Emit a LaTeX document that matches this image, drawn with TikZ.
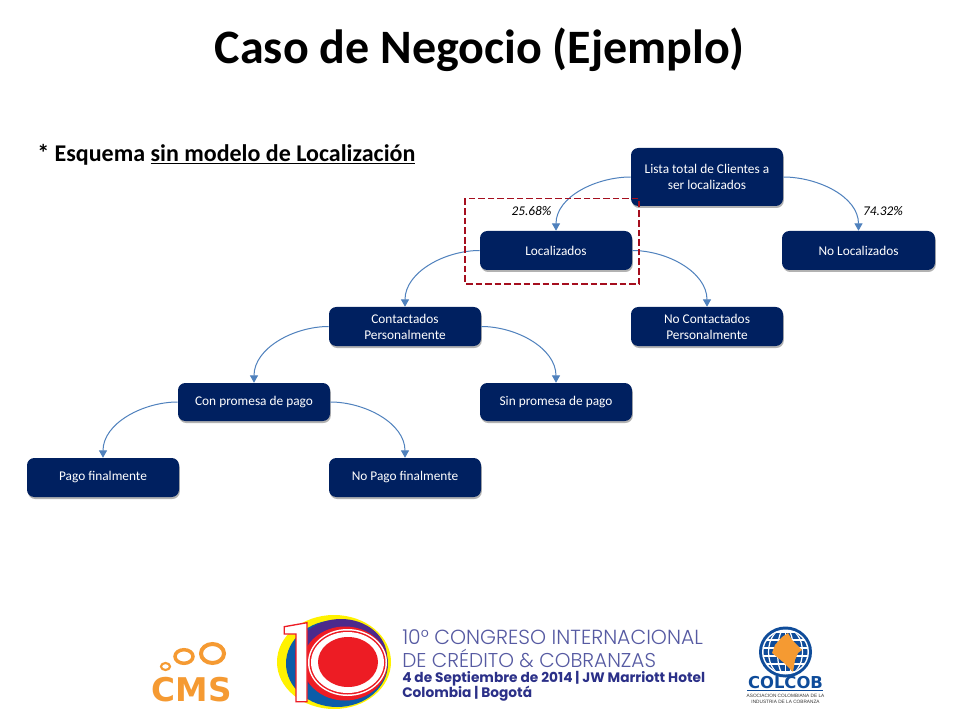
\documentclass[tikz,border=0pt]{standalone}
\usepackage{fontspec}
\usetikzlibrary{shadows,arrows.meta}
\setmainfont{Carlito}
\newfontfamily\lightfont{Poppins Light}
\newfontfamily\heavyfont{Poppins}
\newfontfamily\dejafont{DejaVu Sans}
\newfontfamily\condfont{Liberation Sans}
\definecolor{navyb}{HTML}{002060}
\definecolor{linkb}{HTML}{4F81BD}
\definecolor{dred}{HTML}{A50E1E}
\definecolor{cmso}{HTML}{F59A32}
\definecolor{congr}{HTML}{565AA2}
\definecolor{congb}{HTML}{2B3088}
\definecolor{colb}{HTML}{0F4C9A}
\definecolor{tenred}{HTML}{ED1C24}
\definecolor{tenyel}{HTML}{FFF200}
\definecolor{tenblu}{HTML}{0B5CA8}
\definecolor{tenvio}{HTML}{4B2A8C}
\tikzset{
  x=0.75pt,y=-0.75pt,
  flowbox/.style={draw=none,fill=navyb,rounded corners=5.5pt,text=white,align=center,
    font=\fontsize{10}{12}\selectfont,inner sep=0pt,
    drop shadow={shadow xshift=0.6pt,shadow yshift=-1.5pt,fill=black,opacity=0.3}},
  link/.style={draw=linkb,line width=0.75pt,-{Triangle[length=5.5pt,width=6pt]}},
  pct/.style={font=\fontsize{10}{12}\itshape\selectfont,text=black,inner sep=0pt},
  lgt/.style={anchor=west,inner sep=0pt},
}
\newcommand{\bx}[6]{\node[flowbox,minimum width=#4*0.75pt,minimum height=#5*0.75pt] (#1) at (#2,#3) {#6};}
\begin{document}
\begin{tikzpicture}
\useasboundingbox (0,0) rectangle (960,720);
\fill[white] (0,0) rectangle (960,720);
\node[inner sep=0pt,font=\fontsize{36}{40}\bfseries\selectfont] (title) at (479.5,49.5) {Caso de Negocio (Ejemplo)};
\node[inner sep=0pt,anchor=west,font=\fontsize{18}{22}\bfseries\selectfont] (sub) at (37,154.5) {* Esquema \underline{sin modelo de Localización}};
% boxes
\bx{root}{707}{177}{152}{58}{Lista total de Clientes a\\ser localizados}
\bx{loc}{556}{250.5}{152}{39}{Localizados}
\bx{noloc}{858.5}{250.5}{153}{39}{No Localizados}
\bx{cont}{405}{326.5}{152}{39}{Contactados\\Personalmente}
\bx{nocont}{707}{326.5}{152}{39}{No Contactados\\Personalmente}
\bx{con}{254}{402}{152}{38}{Con promesa de pago}
\bx{sin}{556}{402}{152}{38}{Sin promesa de pago}
\bx{pago}{103}{477.5}{152}{39}{Pago finalmente}
\bx{nopago}{405}{477.5}{152}{39}{No Pago finalmente}
% connectors
\draw[link] (root.west) to[out=180,in=90,looseness=0.95] (loc.north);
\draw[link] (root.east) to[out=0,in=90,looseness=0.95] (noloc.north);
\draw[link] (loc.west) to[out=180,in=90,looseness=0.95] (cont.north);
\draw[link] (loc.east) to[out=0,in=90,looseness=0.95] (nocont.north);
\draw[link] (cont.west) to[out=180,in=90,looseness=0.95] (con.north);
\draw[link] (cont.east) to[out=0,in=90,looseness=0.95] (sin.north);
\draw[link] (con.west) to[out=180,in=90,looseness=0.95] (pago.north);
\draw[link] (con.east) to[out=0,in=90,looseness=0.95] (nopago.north);
\node[pct] (p1) at (531.5,211) {25.68\%};
\node[pct] (p2) at (883,211) {74.32\%};
\draw[dred,line width=1.35pt,dash pattern=on 5pt off 2.2pt] (465,198.5) rectangle (639,284);
% CMS logo
\draw[cmso,line width=3pt] (212.5,653.5) ellipse [x radius=11.5,y radius=9.5];
\draw[cmso,line width=2.6pt] (184,656.5) ellipse [x radius=9,y radius=6.8];
\draw[cmso,line width=1.6pt] (165.5,666.5) ellipse [x radius=4.5,y radius=3.5];
\node[inner sep=0pt,text=cmso,font=\fontsize{24.5}{28}\dejafont\bfseries\selectfont] (cms) at (192,690) {CMS};
% 10 logo
\fill[tenyel] (334,662) ellipse [x radius=57,y radius=47];
\fill[tenblu] (337,663.5) ellipse [x radius=51,y radius=43.5];
\fill[tenvio] (341,657) ellipse [x radius=46,y radius=38];
\fill[tenred] (345,663.5) ellipse [x radius=42.5,y radius=37];
\fill[white] (347.5,662.5) ellipse [x radius=39.5,y radius=33.5];
\fill[tenred] (347.5,662.5) ellipse [x radius=38,y radius=32];
\fill[white] (347.5,662.5) ellipse [x radius=36.5,y radius=30.5];
\fill[tenred] (348,662) ellipse [x radius=30,y radius=25];
\draw[tenred,fill=white,line width=1pt,line join=miter]
  (284.3,626.7) -- (307,622.7) -- (307,701.7) -- (296,701.7) -- (296,634) -- (284.3,634) -- cycle;
% Congress text
\node[lgt,text=congr,font=\fontsize{15.3}{18}\lightfont\selectfont] (c1) at (402,637.5) {10° CONGRESO INTERNACIONAL};
\node[lgt,text=congr,font=\fontsize{15}{18}\lightfont\selectfont] (c2) at (402,658.5) {DE CRÉDITO \& COBRANZAS};
\node[lgt,text=congb,font=\fontsize{10.3}{12}\heavyfont\bfseries\selectfont] (c3) at (402,678.5) {4 de Septiembre de 2014 | JW Marriott Hotel};
\node[lgt,text=congb,font=\fontsize{10.3}{12}\heavyfont\bfseries\selectfont] (c4) at (402,694) {Colombia | Bogotá};
% COLCOB
\begin{scope}
\fill[colb] (785.5,652) ellipse [x radius=26.5,y radius=25.5];
\fill[white] (785.5,652) ellipse [x radius=23.5,y radius=22.5];
\clip (785.5,652) ellipse [x radius=22,y radius=21];
\foreach \yy in {636,644,652,660,668}{\fill[colb] (760,\yy-2.8) rectangle (812,\yy+2.8);}
\foreach \rr in {8,17}{\draw[white,line width=0.9pt] (785.5,652) ellipse [x radius=\rr,y radius=24];}
\draw[white,line width=0.9pt] (785.5,627) -- (785.5,677);
\end{scope}
\fill[cmso] (788,633) -- (792,640) -- (802,650) -- (798,653) -- (795,660) -- (793,672) -- (783,662) -- (772,653) -- (775,645) -- (782,637) -- cycle;
\node[inner sep=0pt,text=colb,font=\fontsize{12.3}{14}\dejafont\bfseries\selectfont] (colcob) at (785.5,683) {COLCOB};
\fill[colb] (747,689.5) rectangle (823,691);
\node[inner sep=0pt,text=black!80,align=center,font=\fontsize{3.55}{4.6}\condfont\selectfont] (colsub) at (785.5,698.5) {ASOCIACION COLOMBIANA DE LA\\INDUSTRIA DE LA COBRANZA};
\end{tikzpicture}
\end{document}
